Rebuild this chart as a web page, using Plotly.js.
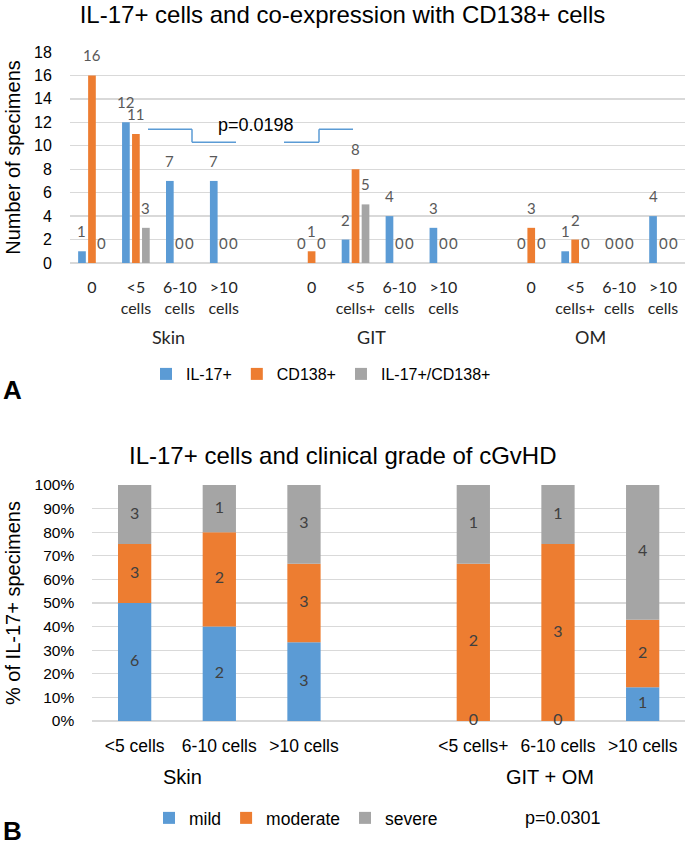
<!DOCTYPE html>
<html><head><meta charset="utf-8">
<script src="https://cdn.plot.ly/plotly-3.0.1.min.js"></script>
<style>html,body{margin:0;padding:0;background:#fff}#chart{width:685px;height:847px}</style>
</head><body><div id="chart"></div>
<script>
// ---------- Panel A data ----------
const topGroups = ["Skin", "GIT", "OM"];
const topCategories = [
  ["0", "<5<br>cells", "6-10<br>cells", ">10<br>cells"],
  ["0", "<5<br>cells+", "6-10<br>cells", ">10<br>cells"],
  ["0", "<5<br>cells+", "6-10<br>cells", ">10<br>cells"]
];
const topSeriesNames = ["IL-17+", "CD138+", "IL-17+/CD138+"];
const il17Counts  = [1, 12, 7, 7,   0, 2, 4, 3,   0, 1, 0, 4];
const cd138Counts = [16, 11, 0, 0,  1, 8, 0, 0,   3, 2, 0, 0];
const bothCounts  = [0, 3, 0, 0,    0, 5, 0, 0,   0, 0, 0, 0];

// ---------- Panel B data ----------
const bottomGroups = ["Skin", "GIT + OM"];
const bottomCategories = [
  ["<5 cells", "6-10 cells", ">10 cells"],
  ["<5 cells+", "6-10 cells", ">10 cells"]
];
const gradeNames = ["mild", "moderate", "severe"];
const mildCounts     = [6, 2, 3,  0, 0, 1];
const moderateCounts = [3, 2, 3,  2, 3, 2];
const severeCounts   = [3, 1, 3,  1, 1, 4];

const colors = ["#5B9BD5", "#ED7D31", "#A5A5A5"];
const ARIAL = "Liberation Sans, Arial, sans-serif";
const CAL = "Lato, Carlito, Calibri, sans-serif";

// Build category slots with an empty slot between groups
function buildSlots(groups, cats) {
  const keys = [], labels = [], idx = [];
  let d = 0;
  groups.forEach((g, gi) => {
    cats[gi].forEach((c, ci) => { keys.push(g + "|" + ci); labels.push(c); idx.push(d++); });
    if (gi < groups.length - 1) { keys.push("gap" + gi); labels.push(""); idx.push(-1); }
  });
  return { keys, labels, idx };
}
const topSlots = buildSlots(topGroups, topCategories);
const botSlots = buildSlots(bottomGroups, bottomCategories);
const pick = (arr, slots) => slots.idx.map(i => (i < 0 ? null : arr[i]));

const traces = [];
const annotations = [];

// Panel A bars + value labels
[il17Counts, cd138Counts, bothCounts].forEach((arr, s) => {
  const y = pick(arr, topSlots);
  traces.push({
    type: "bar", name: topSeriesNames[s], x: topSlots.keys, y: y,
    marker: { color: colors[s] }, xaxis: "x", yaxis: "y", legend: "legend",
    hoverinfo: "x+y+name"
  });
  topSlots.keys.forEach((k, j) => {
    if (y[j] === null) return;
    annotations.push({
      xref: "x", yref: "y", x: k, y: y[j], text: String(y[j]), showarrow: false,
      xshift: (s - 1) * 10, yshift: 20, yanchor: "middle",
      font: { family: CAL, size: 15, color: "#595959" }
    });
  });
});

// Panel B stacked 100% bars (bases computed from counts)
const gradeArrays = [mildCounts, moderateCounts, severeCounts];
const totals = mildCounts.map((_, i) => gradeArrays.reduce((a, arr) => a + arr[i], 0));
const cum = totals.map(() => 0);
gradeArrays.forEach((arr, s) => {
  const pct = arr.map((v, i) => v / totals[i] * 100);
  const base = cum.slice();
  pct.forEach((p, i) => { cum[i] += p; });
  const y = pick(pct, botSlots);
  const b = pick(base, botSlots);
  traces.push({
    type: "bar", name: gradeNames[s], x: botSlots.keys, y: y, base: b,
    offsetgroup: "grade", width: 0.393,
    marker: { color: colors[s] }, xaxis: "x2", yaxis: "y2", legend: "legend2",
    hoverinfo: "x+name"
  });
  traces.push({
    type: "scatter", mode: "text", x: botSlots.keys,
    y: botSlots.idx.map(i => (i < 0 ? null : base[i] + pct[i] / 2)),
    text: pick(arr, botSlots).map(v => (v === null ? "" : String(v))),
    textposition: "middle center", cliponaxis: false,
    textfont: { family: CAL, size: 16, color: "#404040" },
    xaxis: "x2", yaxis: "y2", showlegend: false, hoverinfo: "skip"
  });
});

const H = 847, W = 685;
const px = v => v / W, py = v => 1 - v / H;
const txt = (x, y, text, family, size, color) => ({
  xref: "paper", yref: "paper", x: px(x), y: py(y), text: text, showarrow: false,
  xanchor: "center", yanchor: "middle", font: { family: family, size: size, color: color || "#000" }
});

// text annotations
annotations.push(
  txt(168, 337, "Skin", CAL, 18, "#262626"),
  txt(371, 337, "GIT", CAL, 18, "#262626"),
  txt(590, 337, "OM", CAL, 18, "#262626"),
  txt(256, 125, "p=0.0198", ARIAL, 18),
  txt(12, 390, "<b>A</b>", ARIAL, 26),
  txt(343, 455, "IL-17+ cells and clinical grade of cGvHD", ARIAL, 24),
  txt(182, 777, "Skin", ARIAL, 20),
  txt(550, 777, "GIT + OM", ARIAL, 20),
  txt(563, 818, "p=0.0301", ARIAL, 18),
  txt(12, 831, "<b>B</b>", ARIAL, 26)
);

// bracket shapes for p=0.0198
const lineStyle = { color: "#5B9BD5", width: 1.5 };
const shapes = [
  { type: "line", xref: "paper", yref: "y", x0: px(148), x1: px(192), y0: 11.4, y1: 11.4, line: lineStyle },
  { type: "line", xref: "paper", yref: "y", x0: px(192), x1: px(192), y0: 11.4, y1: 10.3, line: lineStyle },
  { type: "line", xref: "paper", yref: "y", x0: px(192), x1: px(236), y0: 10.3, y1: 10.3, line: lineStyle },
  { type: "line", xref: "paper", yref: "y", x0: px(284), x1: px(319), y0: 10.3, y1: 10.3, line: lineStyle },
  { type: "line", xref: "paper", yref: "y", x0: px(319), x1: px(319), y0: 10.3, y1: 11.4, line: lineStyle },
  { type: "line", xref: "paper", yref: "y", x0: px(319), x1: px(353), y0: 11.4, y1: 11.4, line: lineStyle }
];

const layout = {
  width: W, height: H, margin: { l: 0, r: 0, t: 0, b: 0 },
  paper_bgcolor: "#fff", plot_bgcolor: "#fff",
  barmode: "group", bargap: 0.318, bargroupgap: 0.23,
  font: { family: ARIAL, color: "#000" },
  title: { text: "IL-17+ cells and co-expression with CD138+ cells", font: { family: ARIAL, size: 24, color: "#000" },
           x: 0.5, xanchor: "center", xref: "paper", y: py(15), yanchor: "middle", yref: "paper" },
  xaxis: {
    domain: [px(70), 1], anchor: "y", type: "category",
    categoryorder: "array", categoryarray: topSlots.keys,
    tickmode: "array", tickvals: topSlots.keys, ticktext: topSlots.labels,
    range: [-0.5, topSlots.keys.length - 0.5],
    showgrid: false, zeroline: false, showline: false,
    ticks: "outside", ticklen: 10, tickcolor: "rgba(0,0,0,0)",
    tickfont: { family: CAL, size: 16, color: "#262626" }, tickangle: 0
  },
  yaxis: {
    domain: [py(263), py(52)], anchor: "x", range: [0, 18], dtick: 2,
    showgrid: true, gridcolor: "#D9D9D9", gridwidth: 1.3,
    zeroline: true, zerolinecolor: "#D9D9D9", zerolinewidth: 1.5, showline: false,
    ticks: "outside", ticklen: 14, tickcolor: "rgba(0,0,0,0)",
    tickfont: { family: ARIAL, size: 16, color: "#000" },
    title: { text: "Number of specimens", font: { family: ARIAL, size: 20, color: "#000" }, standoff: 8 }
  },
  xaxis2: {
    domain: [px(92.3), 1], anchor: "y2", type: "category",
    categoryorder: "array", categoryarray: botSlots.keys,
    tickmode: "array", tickvals: botSlots.keys, ticktext: botSlots.labels,
    range: [-0.5, botSlots.keys.length - 0.5],
    showgrid: false, zeroline: false, showline: false,
    ticks: "outside", ticklen: 9, tickcolor: "rgba(0,0,0,0)",
    tickfont: { family: ARIAL, size: 17.5, color: "#000" }, tickangle: 0
  },
  yaxis2: {
    domain: [py(721), py(485)], anchor: "x2", range: [0, 100], dtick: 10, ticksuffix: "%",
    showgrid: true, gridcolor: "#D9D9D9", gridwidth: 1.3,
    zeroline: true, zerolinecolor: "#D9D9D9", zerolinewidth: 1.5, showline: false,
    ticks: "outside", ticklen: 14, tickcolor: "rgba(0,0,0,0)",
    tickfont: { family: ARIAL, size: 15.5, color: "#000" },
    title: { text: "% of IL-17+ specimens", font: { family: ARIAL, size: 20, color: "#000" }, standoff: 8 }
  },
  legend: {
    orientation: "h", x: px(321), xanchor: "center", y: py(374), yanchor: "middle",
    font: { family: ARIAL, size: 16, color: "#000" }, itemwidth: 30, bgcolor: "rgba(0,0,0,0)"
  },
  legend2: {
    orientation: "h", x: px(296), xanchor: "center", y: py(818), yanchor: "middle",
    font: { family: ARIAL, size: 17.5, color: "#000" }, itemwidth: 30, bgcolor: "rgba(0,0,0,0)"
  },
  annotations: annotations,
  shapes: shapes,
  showlegend: true
};

Plotly.newPlot("chart", traces, layout, { displayModeBar: false, staticPlot: true });
</script>
</body></html>
